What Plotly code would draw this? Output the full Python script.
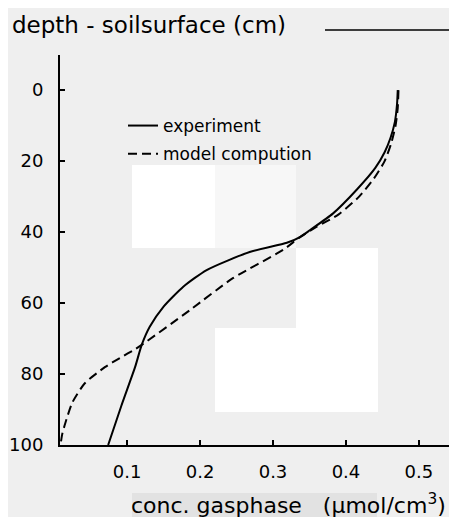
import plotly.graph_objects as go

# ---- data ----
exp_conc = [0.471, 0.470, 0.467, 0.461, 0.453, 0.440, 0.415, 0.382, 0.351, 0.337, 0.319,
            0.268, 0.209, 0.177, 0.150, 0.131, 0.120, 0.111, 0.092, 0.074]
exp_depth = [0, 4, 9, 13.5, 17.5, 22, 28, 34.8, 39.4, 41.4, 43,
             45.6, 50.7, 55.4, 61, 66.7, 71.8, 78, 89, 100]

mod_conc = [0.472, 0.471, 0.468, 0.462, 0.453, 0.438, 0.418, 0.390, 0.360, 0.337, 0.314,
            0.245, 0.186, 0.120, 0.111, 0.090, 0.070, 0.042, 0.025, 0.015, 0.011, 0.009]
mod_depth = [0, 5, 10, 15, 20, 25, 30, 35, 38.5, 41.4, 45,
             53, 62, 71.8, 73, 75.5, 78, 82.6, 88, 94, 97, 99.5]

y_ticks = [0, 20, 40, 60, 80, 100]
x_ticks = [0.1, 0.2, 0.3, 0.4, 0.5]
x_tick_labels = ["0.1", "0.2", "0.3", "0.4", "0.5"]

BG = "#efefef"
FONT = "DejaVu Sans"

OFF = 8  # default page body margin
W, H = 457 - OFF, 517 - OFF
# plot area in page pixels
PL, PR, PT, PB = 60, 451, 55, 445
L, R, T, B = PL - OFF, PR - OFF, PT - OFF, PB - OFF


def px(x):
    return (x - OFF - L) / (R - L)


def py(y):
    return (B - (y - OFF)) / (B - T)


fig = go.Figure()
fig.add_trace(go.Scatter(x=exp_conc, y=exp_depth, mode="lines", name="experiment",
                         line=dict(color="black", width=2, shape="spline", smoothing=0.6),
                         legendgroup="a"))
fig.add_trace(go.Scatter(x=mod_conc, y=mod_depth, mode="lines", name="model compution",
                         line=dict(color="black", width=2, dash="9px,5px", shape="spline", smoothing=0.6),
                         legendgroup="b"))

shapes = []
# scan artefact patches (page pixels)
for (x0, y0, x1, y1, c) in [(132, 165, 215, 248, "#ffffff"),
                            (215, 165, 296, 248, "#f7f7f7"),
                            (296, 248, 378, 412, "#ffffff"),
                            (215, 328, 296, 412, "#ffffff"),
                            (132, 493, 377, 517, "#e2e2e2")]:
    shapes.append(dict(type="rect", xref="paper", yref="paper", x0=px(x0), x1=px(x1),
                       y0=py(y1), y1=py(y0), fillcolor=c, line=dict(width=0), layer="below"))
# frame: top partial line and right line
shapes.append(dict(type="line", xref="paper", yref="paper", x0=px(325), x1=px(451),
                   y0=py(30), y1=py(30), line=dict(color="black", width=1.5)))
shapes.append(dict(type="line", xref="paper", yref="paper", x0=px(451), x1=px(451),
                   y0=py(30), y1=py(445), line=dict(color="black", width=2)))

fig.update_layout(
    width=W, height=H,
    margin=dict(l=L, r=W - R, t=T, b=H - B, pad=0),
    paper_bgcolor=BG, plot_bgcolor=BG,
    font=dict(family=FONT, color="black"),
    shapes=shapes,
    showlegend=True,
    legend=dict(x=px(123), y=py(108), xanchor="left", yanchor="top",
                bgcolor="rgba(0,0,0,0)", font=dict(size=17, family=FONT),
                tracegroupgap=3),
    annotations=[
        dict(text="depth - soilsurface (cm)", xref="paper", yref="paper",
             x=px(10), y=py(25), xanchor="left", yanchor="middle", showarrow=False,
             font=dict(size=23, family=FONT)),
        dict(text="conc. gasphase   (µmol/cm<sup>3</sup>)", xref="paper", yref="paper",
             x=px(129), y=py(504), xanchor="left", yanchor="middle", showarrow=False,
             font=dict(size=22, family=FONT)),
    ],
)
fig.update_xaxes(range=[0.008, 0.544], showgrid=False, zeroline=False, automargin=False,
                 showline=True, linecolor="black", linewidth=2,
                 tickmode="array", tickvals=x_ticks, ticktext=x_tick_labels,
                 ticks="inside", ticklen=5, tickwidth=1.5, tickcolor="black",
                 tickfont=dict(size=18, family=FONT), ticklabelstandoff=9)
fig.update_yaxes(range=[100, -9.9], showgrid=False, zeroline=False, automargin=False,
                 showline=True, linecolor="black", linewidth=2,
                 tickmode="array", tickvals=y_ticks,
                 ticks="inside", ticklen=5, tickwidth=1.5, tickcolor="black",
                 tickfont=dict(size=18, family=FONT), ticklabelstandoff=11)

fig.write_html("out.html")
